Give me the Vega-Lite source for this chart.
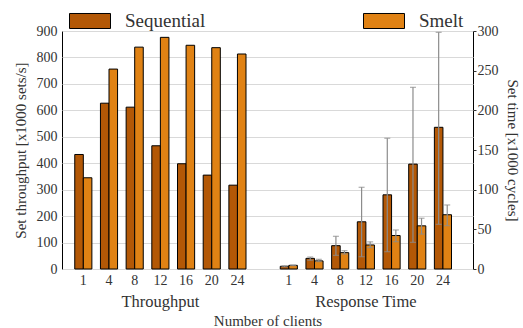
{
  "$schema": "https://vega.github.io/schema/vega-lite/v6.json",
  "width": 411,
  "height": 238,
  "autosize": {"type": "none"},
  "padding": {"left": 62, "top": 31, "right": 50, "bottom": 59},
  "config": {
    "font": "Liberation Serif, serif",
    "style": {
      "guide-label": {"font": "Liberation Serif, serif", "fill": "#333"},
      "guide-title": {"font": "Liberation Serif, serif", "fill": "#333"}
    },
    "view": {"stroke": "black", "strokeWidth": 1},
    "axis": {
      "labelFont": "Liberation Serif, serif",
      "titleFont": "Liberation Serif, serif",
      "labelColor": "#333",
      "titleColor": "#333",
      "labelFontSize": 14,
      "titleFontSize": 15,
      "titleFontWeight": "normal",
      "domain": false
    },
    "legend": {
      "orient": "none",
      "legendX": 7,
      "legendY": -31,
      "direction": "horizontal",
      "columns": 2,
      "columnPadding": 155,
      "symbolType": "M-1,-0.366H1V0.366H-1Z",
      "symbolSize": 1681,
      "symbolStrokeColor": "black",
      "symbolStrokeWidth": 1,
      "symbolOpacity": 1,
      "labelFont": "Liberation Serif, serif",
      "labelFontSize": 19,
      "labelColor": "#333",
      "labelOffset": 14
    }
  },
  "data": {
    "values": [
      {"metric": "Throughput", "slot": "T|1", "series": "Sequential", "value": 433},
      {"metric": "Throughput", "slot": "T|4", "series": "Sequential", "value": 627},
      {"metric": "Throughput", "slot": "T|8", "series": "Sequential", "value": 612},
      {"metric": "Throughput", "slot": "T|12", "series": "Sequential", "value": 466},
      {"metric": "Throughput", "slot": "T|16", "series": "Sequential", "value": 398},
      {"metric": "Throughput", "slot": "T|20", "series": "Sequential", "value": 355},
      {"metric": "Throughput", "slot": "T|24", "series": "Sequential", "value": 317},
      {"metric": "Throughput", "slot": "T|1", "series": "Smelt", "value": 345},
      {"metric": "Throughput", "slot": "T|4", "series": "Smelt", "value": 756},
      {"metric": "Throughput", "slot": "T|8", "series": "Smelt", "value": 839},
      {"metric": "Throughput", "slot": "T|12", "series": "Smelt", "value": 876},
      {"metric": "Throughput", "slot": "T|16", "series": "Smelt", "value": 846},
      {"metric": "Throughput", "slot": "T|20", "series": "Smelt", "value": 837},
      {"metric": "Throughput", "slot": "T|24", "series": "Smelt", "value": 813},
      {"metric": "Response Time", "slot": "R|1", "series": "Sequential", "value": 3.4, "lo": 2.8, "hi": 4.0},
      {"metric": "Response Time", "slot": "R|4", "series": "Sequential", "value": 13.4, "lo": 11.0, "hi": 15.1},
      {"metric": "Response Time", "slot": "R|8", "series": "Sequential", "value": 29.4, "lo": 17.2, "hi": 41.2},
      {"metric": "Response Time", "slot": "R|12", "series": "Sequential", "value": 59.5, "lo": 15.5, "hi": 103},
      {"metric": "Response Time", "slot": "R|16", "series": "Sequential", "value": 93.5, "lo": 21.8, "hi": 164.8},
      {"metric": "Response Time", "slot": "R|20", "series": "Sequential", "value": 132.2, "lo": 33.6, "hi": 229},
      {"metric": "Response Time", "slot": "R|24", "series": "Sequential", "value": 178.6, "lo": 56.3, "hi": 298.3},
      {"metric": "Response Time", "slot": "R|1", "series": "Smelt", "value": 4.6, "lo": 4.2, "hi": 5.0},
      {"metric": "Response Time", "slot": "R|4", "series": "Smelt", "value": 10.2, "lo": 9.3, "hi": 12.2},
      {"metric": "Response Time", "slot": "R|8", "series": "Smelt", "value": 20.6, "lo": 18.9, "hi": 23.1},
      {"metric": "Response Time", "slot": "R|12", "series": "Smelt", "value": 30.3, "lo": 27.0, "hi": 34.2},
      {"metric": "Response Time", "slot": "R|16", "series": "Smelt", "value": 42.2, "lo": 34.4, "hi": 49.2},
      {"metric": "Response Time", "slot": "R|20", "series": "Smelt", "value": 54.4, "lo": 44.0, "hi": 64.0},
      {"metric": "Response Time", "slot": "R|24", "series": "Smelt", "value": 68.4, "lo": 54.6, "hi": 80.7}
    ]
  },
  "encoding": {
    "xOffset": {
      "field": "series",
      "type": "nominal",
      "scale": {"domain": ["Sequential", "Smelt"], "paddingOuter": 0.5, "paddingInner": 0}
    },
    "color": {
      "field": "series",
      "type": "nominal",
      "scale": {"domain": ["Sequential", "Smelt"], "range": ["#b35806", "#e08214"]},
      "legend": {"title": null}
    }
  },
  "layer": [
    {
      "transform": [{"filter": "datum.metric === 'Throughput'"}],
      "mark": {"type": "bar", "stroke": "black", "strokeWidth": 1},
      "encoding": {
        "x": {
          "field": "slot",
          "type": "nominal",
          "sort": null,
          "scale": {
            "domain": ["T|1", "T|4", "T|8", "T|12", "T|16", "T|20", "T|24", "gap", "R|1", "R|4", "R|8", "R|12", "R|16", "R|20", "R|24"],
            "paddingInner": 0,
            "paddingOuter": 0.5,
            "align": 0.33
          },
          "axis": {
            "orient": "bottom",
            "title": null,
            "labelExpr": "datum.value === 'gap' ? '' : split(datum.value, '|')[1]",
            "labelAngle": 0,
            "labelFontSize": 14,
            "ticks": false,
            "labelPadding": 4,
            "labelOverlap": false,
            "labelBound": false
          }
        },
        "y": {
          "field": "value",
          "type": "quantitative",
          "scale": {"domain": [0, 900], "nice": false},
          "axis": {
            "title": "Set throughput [x1000 sets/s]",
            "values": [0, 100, 200, 300, 400, 500, 600, 700, 800, 900],
            "grid": true,
            "gridColor": "#d9d9d9",
            "ticks": false,
            "labelPadding": 5,
            "titlePadding": 8
          }
        }
      }
    },
    {
      "transform": [{"filter": "datum.metric === 'Response Time'"}],
      "encoding": {
        "x": {
          "field": "slot",
          "type": "nominal",
          "sort": null,
          "scale": {
            "domain": ["T|1", "T|4", "T|8", "T|12", "T|16", "T|20", "T|24", "gap", "R|1", "R|4", "R|8", "R|12", "R|16", "R|20", "R|24"],
            "paddingInner": 0,
            "paddingOuter": 0.5,
            "align": 0.33
          },
          "axis": {
            "orient": "bottom",
            "offset": 23,
            "title": "Number of clients",
            "labelExpr": "datum.value === 'T|12' ? 'Throughput' : datum.value === 'R|12' ? 'Response Time' : ''",
            "labelAngle": 0,
            "labelFontSize": 16.5,
            "labelDx": 4,
            "ticks": false,
            "labelPadding": 1,
            "labelOverlap": false,
            "labelBound": false,
            "titlePadding": 4
          }
        }
      },
      "layer": [
        {
          "mark": {"type": "bar", "stroke": "black", "strokeWidth": 1},
          "encoding": {
            "y": {
              "field": "value",
              "type": "quantitative",
              "scale": {"domain": [0, 300], "nice": false},
              "axis": {"title": "Set time [x1000 cycles]", "orient": "right", "values": [0, 50, 100, 150, 200, 250, 300], "grid": false, "ticks": true, "tickSize": 3, "tickColor": "#333", "labelPadding": 1, "titlePadding": 6}
            }
          }
        },
        {
          "mark": {"type": "rule", "color": "#8c8c8c", "strokeWidth": 1.2},
          "encoding": {
            "color": {"value": "#8c8c8c"},
            "y": {"field": "lo", "type": "quantitative", "scale": {"domain": [0, 300], "nice": false}, "axis": {"title": "Set time [x1000 cycles]", "orient": "right", "values": [0, 50, 100, 150, 200, 250, 300], "grid": false, "ticks": true, "tickSize": 3, "tickColor": "#333", "labelPadding": 1, "titlePadding": 6}},
            "y2": {"field": "hi"}
          }
        },
        {
          "mark": {"type": "tick", "color": "#8c8c8c", "thickness": 1.2, "size": 6, "orient": "horizontal"},
          "encoding": {
            "color": {"value": "#8c8c8c"},
            "y": {"field": "lo", "type": "quantitative", "scale": {"domain": [0, 300], "nice": false}, "axis": {"title": "Set time [x1000 cycles]", "orient": "right", "values": [0, 50, 100, 150, 200, 250, 300], "grid": false, "ticks": true, "tickSize": 3, "tickColor": "#333", "labelPadding": 1, "titlePadding": 6}}
          }
        },
        {
          "mark": {"type": "tick", "color": "#8c8c8c", "thickness": 1.2, "size": 6, "orient": "horizontal"},
          "encoding": {
            "color": {"value": "#8c8c8c"},
            "y": {"field": "hi", "type": "quantitative", "scale": {"domain": [0, 300], "nice": false}, "axis": {"title": "Set time [x1000 cycles]", "orient": "right", "values": [0, 50, 100, 150, 200, 250, 300], "grid": false, "ticks": true, "tickSize": 3, "tickColor": "#333", "labelPadding": 1, "titlePadding": 6}}
          }
        }
      ]
    }
  ],
  "resolve": {"scale": {"y": "independent"}, "axis": {"y": "independent", "x": "independent"}}
}
